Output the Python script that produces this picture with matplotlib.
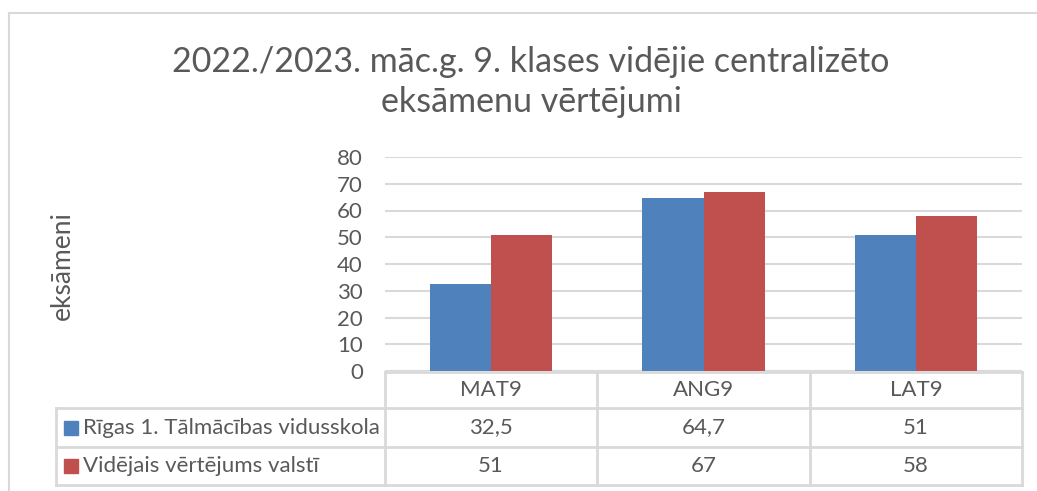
import matplotlib
matplotlib.use("Agg")
import matplotlib.pyplot as plt
from matplotlib.patches import Rectangle
from matplotlib.lines import Line2D
import matplotlib.transforms as mtransforms
import numpy as np

categories = ["MAT9", "ANG9", "LAT9"]
series_names = ["Rīgas 1. Tālmācības vidusskola", "Vidējais vērtējums valstī"]
school_values = [32.5, 64.7, 51]
national_values = [51, 67, 58]
value_labels = [["32,5", "64,7", "51"], ["51", "67", "58"]]
yticks = [0, 10, 20, 30, 40, 50, 60, 70, 80]
title = "2022./2023. māc.g. 9. klases vidējie centralizēto\neksāmenu vērtējumi"
ylabel = "eksāmeni"

colors = ["#4F81BD", "#C0504D"]
text_color = "#595959"
grid_color = "#D9D9D9"

plt.rcParams['font.family'] = ['Lato', 'DejaVu Sans']

W, H = 1037, 491
fig = plt.figure(figsize=(W / 100, H / 100), dpi=100)

def fx(px):
    return px / W

def fy(py):
    return 1 - py / H

FS = 16

# outer chart border
fig.add_artist(Line2D([fx(9), fx(1037)], [fy(13), fy(13)], color=grid_color, lw=1.5))
fig.add_artist(Line2D([fx(9), fx(9)], [fy(13), fy(491)], color=grid_color, lw=1.5))

ax_left, ax_right = 385, 1022
ax_top, ax_bottom = 157, 371
ax = fig.add_axes([fx(ax_left), fy(ax_bottom), fx(ax_right - ax_left), (ax_bottom - ax_top) / H])

x = np.arange(len(categories))
bw = 0.288
ax.bar(x - bw / 2, school_values, bw, color=colors[0], zorder=3)
ax.bar(x + bw / 2, national_values, bw, color=colors[1], zorder=3)

ax.set_xlim(-0.5, len(categories) - 0.5)
ax.set_ylim(0, 80)
ax.set_yticks(yticks)
ax.set_yticklabels([str(v) for v in yticks], color=text_color, fontsize=FS)
ax.tick_params(axis='y', length=0, pad=16)
ax.set_xticks([])
for s in ax.spines.values():
    s.set_visible(False)
ax.grid(axis='y', color=grid_color, lw=1.5, zorder=0)
ax.set_axisbelow(True)

# title
fig.text(fx(531), fy(82), title, ha='center', va='center', fontsize=24.5,
         color=text_color, linespacing=1.3)

# y label
fig.text(fx(62), fy(266), ylabel, rotation=90, ha='center', va='center',
         fontsize=19, color=text_color)

# data table
blend = mtransforms.blended_transform_factory(ax.transData, fig.transFigure)
row_y = [372, 408, 447, 485]  # pixel boundaries
tbl_kw = dict(color=grid_color, lw=2, clip_on=False)
for yy in row_y:
    ax.plot([-0.5, len(categories) - 0.5], [fy(yy)] * 2, transform=blend, **tbl_kw)
for yy in row_y[1:]:
    fig.add_artist(Line2D([fx(56), fx(ax_left)], [fy(yy)] * 2, color=grid_color, lw=2))
for b in np.arange(len(categories) + 1) - 0.5:
    ax.plot([b, b], [fy(row_y[0]), fy(row_y[-1])], transform=blend, **tbl_kw)
fig.add_artist(Line2D([fx(56), fx(56)], [fy(row_y[1]), fy(row_y[-1])], color=grid_color, lw=2))

for i, c in enumerate(categories):
    ax.text(i, fy((row_y[0] + row_y[1]) / 2), c, transform=blend, ha='center', va='center',
            fontsize=FS, color=text_color)
for r in range(2):
    yc = (row_y[r + 1] + row_y[r + 2]) / 2
    for i in range(len(categories)):
        ax.text(i, fy(yc), value_labels[r][i], transform=blend, ha='center', va='center',
                fontsize=FS, color=text_color)
    fig.add_artist(Rectangle((fx(64), fy(yc + 7)), fx(14), 14 / H, color=colors[r]))
    fig.text(fx(83), fy(yc), series_names[r], ha='left', va='center', fontsize=FS,
             color=text_color)

fig.savefig("out.png", dpi=100, facecolor="white")
